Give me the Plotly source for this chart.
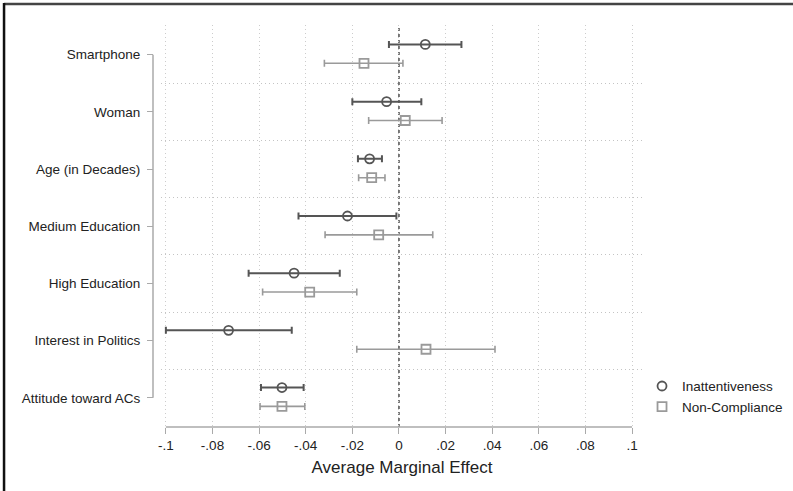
import plotly.graph_objects as go

categories = ["Smartphone", "Woman", "Age (in Decades)", "Medium Education",
              "High Education", "Interest in Politics", "Attitude toward ACs"]

inatt_est = [0.0113, -0.0053, -0.0126, -0.0221, -0.0450, -0.0731, -0.0502]
inatt_lo = [-0.0043, -0.0200, -0.0176, -0.0431, -0.0645, -0.1000, -0.0592]
inatt_hi = [0.0268, 0.0096, -0.0073, -0.0011, -0.0254, -0.0460, -0.0409]

nonc_est = [-0.0150, 0.0027, -0.0117, -0.0087, -0.0383, 0.0116, -0.0502]
nonc_lo = [-0.0320, -0.0130, -0.0173, -0.0317, -0.0585, -0.0181, -0.0596]
nonc_hi = [0.0017, 0.0185, -0.0060, 0.0145, -0.0181, 0.0412, -0.0404]

xtick_vals = [-0.1, -0.08, -0.06, -0.04, -0.02, 0, 0.02, 0.04, 0.06, 0.08, 0.1]
xtick_text = ["-.1", "-.08", "-.06", "-.04", "-.02", "0", ".02", ".04", ".06", ".08", ".1"]

DARK = "#555555"
LIGHT = "#9a9a9a"
AXIS = "#aaaaaa"
FONT = "Liberation Sans, Arial, sans-serif"

n = len(categories)
idx = list(range(n))

fig = go.Figure()
fig.add_trace(go.Scatter(
    x=inatt_est, y=[i - 0.18 for i in idx], mode="markers", name="Inattentiveness",
    marker=dict(symbol="circle-open", size=9, color=DARK, line=dict(width=1.8, color=DARK)),
    error_x=dict(type="data", symmetric=False,
                 array=[h - e for h, e in zip(inatt_hi, inatt_est)],
                 arrayminus=[e - l for l, e in zip(inatt_lo, inatt_est)],
                 color=DARK, thickness=2, width=3.5),
))
fig.add_trace(go.Scatter(
    x=nonc_est, y=[i + 0.15 for i in idx], mode="markers", name="Non-Compliance",
    marker=dict(symbol="square-open", size=9, color=LIGHT, line=dict(width=1.8, color=LIGHT)),
    error_x=dict(type="data", symmetric=False,
                 array=[h - e for h, e in zip(nonc_hi, nonc_est)],
                 arrayminus=[e - l for l, e in zip(nonc_lo, nonc_est)],
                 color=LIGHT, thickness=1.6, width=3.5),
))

fig.update_layout(
    width=793, height=491,
    margin=dict(l=153, r=150, t=25, b=64, autoexpand=False),
    paper_bgcolor="white", plot_bgcolor="white",
    font=dict(family=FONT, size=13.5, color="#222222"),
    showlegend=True,
    legend=dict(x=0.998, xanchor="left", y=0.14, yanchor="top",
                font=dict(size=13.5, color="#222222"), bgcolor="rgba(0,0,0,0)",
                tracegroupgap=0, itemwidth=30),
    xaxis=dict(domain=[0.0163, 1], range=[-0.1021, 0.1047],
               tickmode="array", tickvals=xtick_vals, ticktext=xtick_text,
               ticks="outside", ticklen=6, tickcolor=AXIS, tickwidth=1.2,
               showgrid=True, gridcolor="#cccccc", griddash="1px,3px", gridwidth=1,
               zeroline=False, showline=False, automargin=False,
               tickfont=dict(size=13.5, color="#222222"),
               title=dict(text="Average Marginal Effect", font=dict(size=17, color="#222222"), standoff=8)),
    yaxis=dict(range=[6.51, -0.52], anchor="free", position=0,
               tickmode="array", tickvals=idx, ticktext=categories,
               ticks="outside", ticklen=6, tickcolor=AXIS, tickwidth=1.2,
               showgrid=False, zeroline=False, showline=False, automargin=False,
               ticklabelstandoff=4,
               tickfont=dict(size=13.5, color="#222222"),
               minor=dict(tickmode="array", tickvals=[i + 0.5 for i in idx[:-1]],
                          showgrid=True, gridcolor="#c4c4c4", griddash="1px,3px", gridwidth=1.3,
                          ticks="")),
)

# Stata-style axis lines spanning only the data range
fig.add_shape(type="line", xref="paper", yref="y", x0=0, x1=0, y0=0, y1=n - 1,
              line=dict(color=AXIS, width=1.5), layer="above")
fig.add_shape(type="line", xref="x", yref="paper", x0=xtick_vals[0], x1=xtick_vals[-1], y0=0, y1=0,
              line=dict(color=AXIS, width=1.5), layer="above")
# zero reference line
fig.add_shape(type="line", xref="x", yref="paper", x0=0, x1=0, y0=0, y1=1,
              line=dict(color="#333333", width=1.3, dash="3px,3px"), layer="below")
# frame on the top and left edges of the picture
fig.add_shape(type="line", xref="paper", yref="paper", x0=-0.304, x1=1.31, y0=1.052, y1=1.052,
              line=dict(color="#444444", width=2.5))
fig.add_shape(type="line", xref="paper", yref="paper", x0=-0.304, x1=-0.304, y0=-0.17, y1=1.055,
              line=dict(color="#111111", width=2.5))

fig.write_html("out.html", config={"displayModeBar": False},
               post_script="document.body.style.margin='0';")
